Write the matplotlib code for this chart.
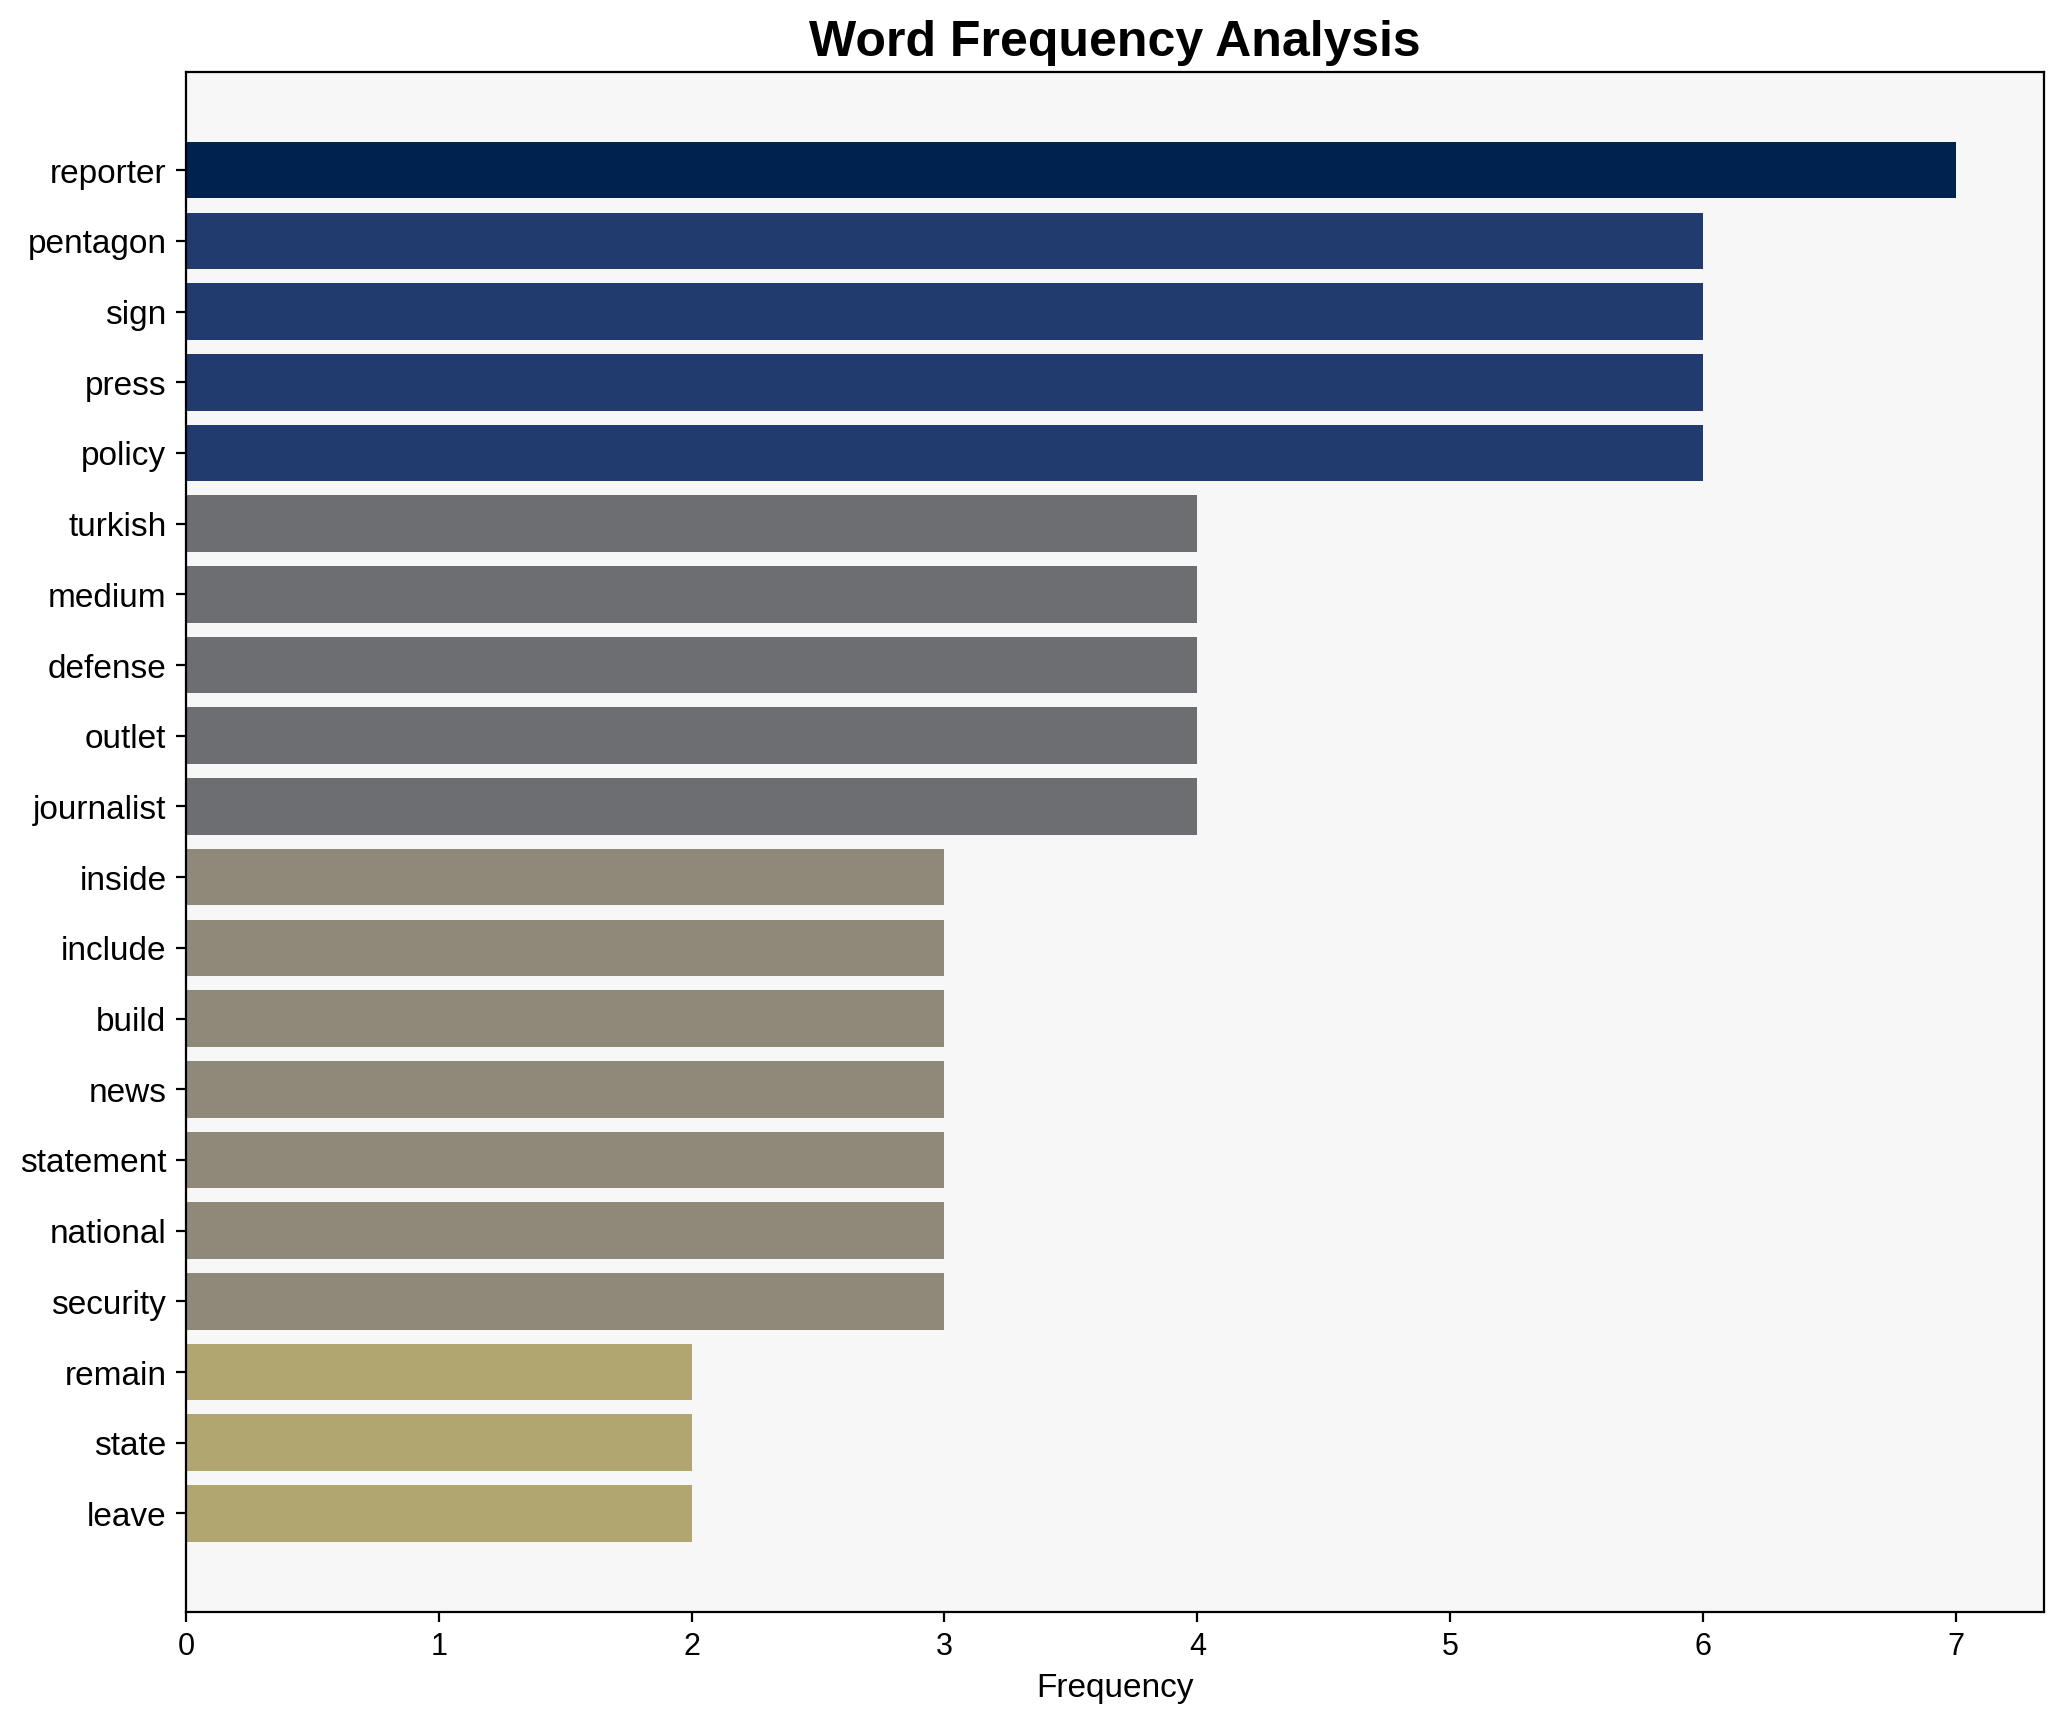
import matplotlib
matplotlib.use('Agg')
import matplotlib.pyplot as plt
import numpy as np

# 词频数据（从上到下）
words = ['reporter', 'pentagon', 'sign', 'press', 'policy',
         'turkish', 'medium', 'defense', 'outlet', 'journalist',
         'inside', 'include', 'build', 'news', 'statement',
         'national', 'security', 'remain', 'state', 'leave']
counts = [7, 6, 6, 6, 6,
          4, 4, 4, 4, 4,
          3, 3, 3, 3, 3,
          3, 3, 2, 2, 2]

plt.rcParams.update({
    'font.family': ['Liberation Sans', 'DejaVu Sans'],
})

fig = plt.figure(figsize=(10.325, 8.6125), dpi=200)
ax = fig.add_subplot(111)
fig.subplots_adjust(left=0.090, right=0.990, bottom=0.064, top=0.958)
ax.set_facecolor('#f7f7f7')

vals = np.array(counts, dtype=float)
colors = plt.cm.cividis(1 - vals / vals.max())
y = np.arange(len(words))
ax.barh(y, vals, color=colors, height=0.8)
ax.set_yticks(y)
ax.set_yticklabels(words, fontsize=12)
ax.invert_yaxis()
ax.tick_params(axis='x', labelsize=11)

ax.set_xlabel('Frequency', fontsize=12)
ax.set_title('Word Frequency Analysis', fontsize=18, fontweight='bold')

plt.savefig('out.png', dpi=200)
plt.close()
